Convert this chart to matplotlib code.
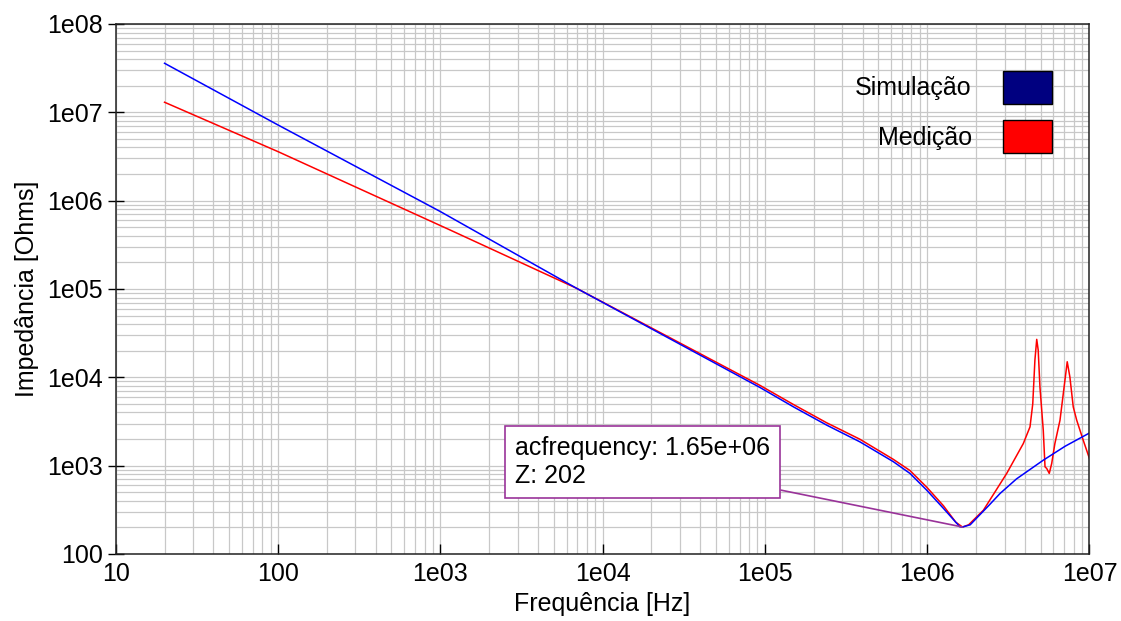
import matplotlib
matplotlib.use("Agg")
import matplotlib.pyplot as plt
from matplotlib.patches import Patch
from matplotlib.ticker import LogLocator, NullFormatter

# Simulação (blue) — frequency [Hz] and impedance [Ohms]
freq_sim = [20, 100, 1e3, 6.9e3, 9.33e4, 1.5e5, 2.4e5, 3.85e5, 6.18e5, 7.83e5,
            9.93e5, 1.26e6, 1.59e6, 1.65e6, 1.84e6, 2.0e6, 2.4e6, 2.81e6,
            3.55e6, 5.19e6, 7.08e6, 1e7]
z_sim = [3.59e7, 7.19e6, 7.53e5, 1.02e5, 7.67e3, 4.63e3, 2.88e3, 1.86e3, 1.11e3, 817,
         528, 328, 203, 202, 214, 251, 355, 484,
         708, 1153, 1660, 2344]

# Medição (red)
freq_med = [20, 100, 300, 1.15e3, 6.9e3, 9.33e4, 1.5e5, 2.4e5, 3.85e5, 6.18e5, 7.83e5,
            9.93e5, 1.26e6, 1.5e6, 1.65e6, 1.8e6, 2.22e6, 3.09e6, 3.91e6, 4.30e6,
            4.47e6, 4.61e6, 4.73e6, 4.83e6, 4.95e6, 5.19e6, 5.32e6, 5.45e6, 5.65e6,
            5.85e6, 6.12e6, 6.58e6, 7.06e6, 7.29e6, 7.57e6, 7.94e6, 8.34e6, 9.14e6, 1e7]
z_med = [1.30e7, 3.59e6, 1.43e6, 4.65e5, 1.02e5, 8.1e3, 4.92e3, 3.06e3, 1.99e3, 1.18e3, 881,
         571, 351, 229, 202, 214, 313, 817, 1.78e3, 2.75e3,
         5.0e3, 1.57e4, 2.69e4, 2.03e4, 7.8e3, 2.51e3, 970, 929, 817,
         1.06e3, 1.78e3, 3.27e3, 9.29e3, 1.5e4, 1.01e4, 4.63e3, 3.27e3, 1.95e3, 1.2e3]

x_ticks = [10, 100, 1e3, 1e4, 1e5, 1e6, 1e7]
x_tick_labels = ["10", "100", "1e03", "1e04", "1e05", "1e06", "1e07"]
y_ticks = [100, 1e3, 1e4, 1e5, 1e6, 1e7, 1e8]
y_tick_labels = ["100", "1e03", "1e04", "1e05", "1e06", "1e07", "1e08"]

marker_freq = 1.65e6
marker_z = 202

plt.rcParams["font.family"] = ["Liberation Sans", "DejaVu Sans"]

fig = plt.figure(figsize=(11.21, 6.21), dpi=100)
ax = fig.add_axes([0.1032, 0.1079, 0.8687, 0.8535])

ax.plot(freq_med, z_med, color="#ff0000", lw=1.1)
ax.plot(freq_sim, z_sim, color="#0000ff", lw=1.1)

ax.set_xscale("log")
ax.set_yscale("log")
ax.set_xlim(10, 1e7)
ax.set_ylim(100, 1e8)
ax.set_xticks(x_ticks, x_tick_labels)
ax.set_yticks(y_ticks, y_tick_labels)
for axis in (ax.xaxis, ax.yaxis):
    axis.set_minor_locator(LogLocator(base=10, subs=range(2, 10), numticks=20))
    axis.set_minor_formatter(NullFormatter())

ax.set_axisbelow(True)
ax.grid(which="both", color="#c8c8c8", lw=0.9)
ax.tick_params(which="minor", length=0)
ax.tick_params(axis="x", which="major", direction="in", length=7, width=1,
               pad=6, labelsize=18)
ax.tick_params(axis="y", which="major", direction="inout", length=12, width=1,
               pad=3, labelsize=18)
for sp in ax.spines.values():
    sp.set_color("#222222")
    sp.set_linewidth(1.1)

ax.set_xlabel("Frequência [Hz]", fontsize=18, labelpad=4)
ax.set_ylabel("Impedância [Ohms]", fontsize=18, labelpad=6)

handles = [Patch(facecolor="#000080", edgecolor="black", lw=1, label="Simulação"),
           Patch(facecolor="#ff0000", edgecolor="black", lw=1, label="Medição")]
ax.legend(handles=handles, loc="upper right", bbox_to_anchor=(0.962, 0.912),
          frameon=False, markerfirst=False, fontsize=18, borderpad=0,
          borderaxespad=0, handlelength=1.98, handleheight=1.67,
          handletextpad=1.25, labelspacing=0.64)

purple = "#993399"
ax.annotate(f"acfrequency: {marker_freq:.2e}\nZ: {marker_z}",
            xy=(marker_freq, marker_z), xytext=(-447, 39),
            textcoords="offset pixels", ha="left", va="bottom", fontsize=18,
            bbox=dict(boxstyle="square,pad=0.4", fc="white", ec=purple, lw=1.2),
            arrowprops=dict(arrowstyle="-", color=purple, lw=1.2, relpos=(1, 0),
                            shrinkA=0, shrinkB=0))

fig.savefig("out.png", dpi=100)
